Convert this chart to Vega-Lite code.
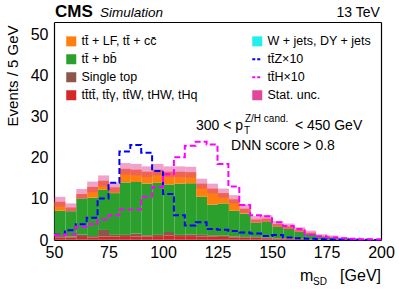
{
  "$schema": "https://vega.github.io/schema/vega-lite/v6.json",
  "width": 327,
  "height": 218,
  "autosize": "none",
  "padding": {"left": 54, "top": 22, "right": 18, "bottom": 51},
  "background": "white",
  "config": {
    "view": {"stroke": null},
    "font": "Liberation Sans",
    "axis": {"labelFont": "Liberation Sans", "labelFontSize": 16, "labelColor": "black", "domainColor": "black", "domainWidth": 1.2, "tickColor": "black", "tickWidth": 1, "tickSize": 0, "grid": false, "labelFlush": false, "labelOverlap": false, "titleFont": "Liberation Sans", "titleFontWeight": "normal", "titleColor": "black"},
    "text": {"font": "Liberation Sans", "color": "black"}
  },
  "datasets": {
    "bkg": [
      {"lo":50,"hi":55,"p":"a","v":0.05},{"lo":50,"hi":55,"p":"b","v":0.6},{"lo":50,"hi":55,"p":"c","v":0.3},{"lo":50,"hi":55,"p":"d","v":6.15},{"lo":50,"hi":55,"p":"e","v":2.2},
      {"lo":55,"hi":60,"p":"a","v":0.05},{"lo":55,"hi":60,"p":"b","v":0.6},{"lo":55,"hi":60,"p":"c","v":0.2},{"lo":55,"hi":60,"p":"d","v":6.15},{"lo":55,"hi":60,"p":"e","v":0.9},
      {"lo":60,"hi":65,"p":"a","v":0.05},{"lo":60,"hi":65,"p":"b","v":0.7},{"lo":60,"hi":65,"p":"c","v":0.6},{"lo":60,"hi":65,"p":"d","v":8.75},{"lo":60,"hi":65,"p":"e","v":1.1},
      {"lo":65,"hi":70,"p":"a","v":0.05},{"lo":65,"hi":70,"p":"b","v":0.6},{"lo":65,"hi":70,"p":"c","v":0.3},{"lo":65,"hi":70,"p":"d","v":9.35},{"lo":65,"hi":70,"p":"e","v":2.6},
      {"lo":70,"hi":75,"p":"a","v":0.05},{"lo":70,"hi":75,"p":"b","v":0.8},{"lo":70,"hi":75,"p":"c","v":1.6},{"lo":70,"hi":75,"p":"d","v":9.75},{"lo":70,"hi":75,"p":"e","v":2.2},
      {"lo":75,"hi":80,"p":"a","v":0.05},{"lo":75,"hi":80,"p":"b","v":0.8},{"lo":75,"hi":80,"p":"c","v":0.4},{"lo":75,"hi":80,"p":"d","v":10.15},{"lo":75,"hi":80,"p":"e","v":1.4},
      {"lo":80,"hi":85,"p":"a","v":0.05},{"lo":80,"hi":85,"p":"b","v":0.9},{"lo":80,"hi":85,"p":"c","v":0.3},{"lo":80,"hi":85,"p":"d","v":12.75},{"lo":80,"hi":85,"p":"e","v":3.3},
      {"lo":85,"hi":90,"p":"a","v":0.05},{"lo":85,"hi":90,"p":"b","v":0.8},{"lo":85,"hi":90,"p":"c","v":0.7},{"lo":85,"hi":90,"p":"d","v":12.55},{"lo":85,"hi":90,"p":"e","v":3.0},
      {"lo":90,"hi":95,"p":"a","v":0.05},{"lo":90,"hi":95,"p":"b","v":0.8},{"lo":90,"hi":95,"p":"c","v":0.3},{"lo":90,"hi":95,"p":"d","v":12.55},{"lo":90,"hi":95,"p":"e","v":2.9},
      {"lo":95,"hi":100,"p":"a","v":0.05},{"lo":95,"hi":100,"p":"b","v":0.9},{"lo":95,"hi":100,"p":"c","v":0.3},{"lo":95,"hi":100,"p":"d","v":12.65},{"lo":95,"hi":100,"p":"e","v":3.2},
      {"lo":100,"hi":105,"p":"a","v":0.05},{"lo":100,"hi":105,"p":"b","v":1.0},{"lo":100,"hi":105,"p":"c","v":0.9},{"lo":100,"hi":105,"p":"d","v":11.55},{"lo":100,"hi":105,"p":"e","v":3.1},
      {"lo":105,"hi":110,"p":"a","v":0.05},{"lo":105,"hi":110,"p":"b","v":0.9},{"lo":105,"hi":110,"p":"c","v":0.3},{"lo":105,"hi":110,"p":"d","v":12.45},{"lo":105,"hi":110,"p":"e","v":2.9},
      {"lo":110,"hi":115,"p":"a","v":0.05},{"lo":110,"hi":115,"p":"b","v":0.9},{"lo":110,"hi":115,"p":"c","v":0.4},{"lo":110,"hi":115,"p":"d","v":12.45},{"lo":110,"hi":115,"p":"e","v":2.7},
      {"lo":115,"hi":120,"p":"a","v":0.05},{"lo":115,"hi":120,"p":"b","v":0.8},{"lo":115,"hi":120,"p":"c","v":0.4},{"lo":115,"hi":120,"p":"d","v":9.25},{"lo":115,"hi":120,"p":"e","v":3.2},
      {"lo":120,"hi":125,"p":"a","v":0.05},{"lo":120,"hi":125,"p":"b","v":0.8},{"lo":120,"hi":125,"p":"c","v":0.3},{"lo":120,"hi":125,"p":"d","v":7.45},{"lo":120,"hi":125,"p":"e","v":3.9},
      {"lo":125,"hi":130,"p":"a","v":0.05},{"lo":125,"hi":130,"p":"b","v":0.7},{"lo":125,"hi":130,"p":"c","v":0.3},{"lo":125,"hi":130,"p":"d","v":7.85},{"lo":125,"hi":130,"p":"e","v":2.5},
      {"lo":130,"hi":135,"p":"a","v":0.05},{"lo":130,"hi":135,"p":"b","v":0.6},{"lo":130,"hi":135,"p":"c","v":0.2},{"lo":130,"hi":135,"p":"d","v":6.25},{"lo":130,"hi":135,"p":"e","v":2.8},
      {"lo":135,"hi":140,"p":"a","v":0.05},{"lo":135,"hi":140,"p":"b","v":0.5},{"lo":135,"hi":140,"p":"c","v":0.2},{"lo":135,"hi":140,"p":"d","v":5.65},{"lo":135,"hi":140,"p":"e","v":1.2},
      {"lo":140,"hi":145,"p":"a","v":0.05},{"lo":140,"hi":145,"p":"b","v":0.5},{"lo":140,"hi":145,"p":"c","v":0.2},{"lo":140,"hi":145,"p":"d","v":3.45},{"lo":140,"hi":145,"p":"e","v":0.8},
      {"lo":145,"hi":150,"p":"a","v":0.05},{"lo":145,"hi":150,"p":"b","v":0.4},{"lo":145,"hi":150,"p":"c","v":0.1},{"lo":145,"hi":150,"p":"d","v":3.85},{"lo":145,"hi":150,"p":"e","v":0.8},
      {"lo":150,"hi":155,"p":"a","v":0.05},{"lo":150,"hi":155,"p":"b","v":0.3},{"lo":150,"hi":155,"p":"c","v":0.1},{"lo":150,"hi":155,"p":"d","v":2.75},{"lo":150,"hi":155,"p":"e","v":0.7},
      {"lo":155,"hi":160,"p":"a","v":0.05},{"lo":155,"hi":160,"p":"b","v":0.3},{"lo":155,"hi":160,"p":"c","v":0.1},{"lo":155,"hi":160,"p":"d","v":2.25},{"lo":155,"hi":160,"p":"e","v":0.6},
      {"lo":160,"hi":165,"p":"a","v":0.05},{"lo":160,"hi":165,"p":"b","v":0.2},{"lo":160,"hi":165,"p":"c","v":0.05},{"lo":160,"hi":165,"p":"d","v":1.7},{"lo":160,"hi":165,"p":"e","v":0.5},
      {"lo":165,"hi":170,"p":"a","v":0.05},{"lo":165,"hi":170,"p":"b","v":0.15},{"lo":165,"hi":170,"p":"c","v":0.05},{"lo":165,"hi":170,"p":"d","v":1.25},{"lo":165,"hi":170,"p":"e","v":0.3},
      {"lo":170,"hi":175,"p":"a","v":0.05},{"lo":170,"hi":175,"p":"b","v":0.1},{"lo":170,"hi":175,"p":"d","v":0.65},{"lo":170,"hi":175,"p":"e","v":0.2},
      {"lo":175,"hi":180,"p":"b","v":0.05},{"lo":175,"hi":180,"p":"d","v":0.55},{"lo":175,"hi":180,"p":"e","v":0.2},
      {"lo":180,"hi":185,"p":"b","v":0.03},{"lo":180,"hi":185,"p":"d","v":0.27},{"lo":180,"hi":185,"p":"e","v":0.1},
      {"lo":185,"hi":190,"p":"b","v":0.02},{"lo":185,"hi":190,"p":"d","v":0.18},{"lo":185,"hi":190,"p":"e","v":0.05},
      {"lo":190,"hi":195,"p":"b","v":0.02},{"lo":190,"hi":195,"p":"d","v":0.13},{"lo":190,"hi":195,"p":"e","v":0.05},
      {"lo":195,"hi":200,"p":"b","v":0.01},{"lo":195,"hi":200,"p":"d","v":0.09},{"lo":195,"hi":200,"p":"e","v":0.05}
    ],
    "unc": [
      {"lo":50,"hi":55,"ulo":8.1,"uhi":10.5},{"lo":55,"hi":60,"ulo":6.9,"uhi":8.9},{"lo":60,"hi":65,"ulo":10.0,"uhi":12.4},
      {"lo":65,"hi":70,"ulo":11.6,"uhi":14.2},{"lo":70,"hi":75,"ulo":13.1,"uhi":15.7},{"lo":75,"hi":80,"ulo":11.6,"uhi":14.0},
      {"lo":80,"hi":85,"ulo":15.9,"uhi":18.7},{"lo":85,"hi":90,"ulo":15.7,"uhi":18.5},{"lo":90,"hi":95,"ulo":15.3,"uhi":17.9},
      {"lo":95,"hi":100,"ulo":15.7,"uhi":18.5},{"lo":100,"hi":105,"ulo":15.3,"uhi":17.9},{"lo":105,"hi":110,"ulo":15.3,"uhi":17.9},
      {"lo":110,"hi":115,"ulo":15.2,"uhi":17.8},{"lo":115,"hi":120,"ulo":12.5,"uhi":14.9},{"lo":120,"hi":125,"ulo":11.3,"uhi":13.7},
      {"lo":125,"hi":130,"ulo":10.3,"uhi":12.5},{"lo":130,"hi":135,"ulo":8.9,"uhi":10.9},{"lo":135,"hi":140,"ulo":6.6,"uhi":8.6},
      {"lo":140,"hi":145,"ulo":4.2,"uhi":5.8},{"lo":145,"hi":150,"ulo":4.4,"uhi":6.0},{"lo":150,"hi":155,"ulo":3.2,"uhi":4.6},
      {"lo":155,"hi":160,"ulo":2.6,"uhi":4.0},{"lo":160,"hi":165,"ulo":1.9,"uhi":3.1},{"lo":165,"hi":170,"ulo":1.3,"uhi":2.3},
      {"lo":170,"hi":175,"ulo":0.6,"uhi":1.4},{"lo":175,"hi":180,"ulo":0.5,"uhi":1.1},{"lo":180,"hi":185,"ulo":0.15,"uhi":0.65},
      {"lo":185,"hi":190,"ulo":0.05,"uhi":0.45},{"lo":190,"hi":195,"ulo":0.05,"uhi":0.35},{"lo":195,"hi":200,"ulo":0.05,"uhi":0.25}
    ],
    "sig": [
      {"x":50,"p":"z","v":1.3},{"x":55,"p":"z","v":2.4},{"x":60,"p":"z","v":3.8},{"x":65,"p":"z","v":5.4},{"x":70,"p":"z","v":10.1},
      {"x":75,"p":"z","v":13.9},{"x":80,"p":"z","v":21.5},{"x":85,"p":"z","v":23.1},{"x":90,"p":"z","v":21.2},{"x":95,"p":"z","v":16.8},
      {"x":100,"p":"z","v":11.2},{"x":105,"p":"z","v":6.0},{"x":110,"p":"z","v":3.5},{"x":115,"p":"z","v":4.3},{"x":120,"p":"z","v":2.7},
      {"x":125,"p":"z","v":2.5},{"x":130,"p":"z","v":2.2},{"x":135,"p":"z","v":1.8},{"x":140,"p":"z","v":1.6},{"x":145,"p":"z","v":1.0},
      {"x":150,"p":"z","v":1.2},{"x":155,"p":"z","v":0.6},{"x":160,"p":"z","v":0.4},{"x":165,"p":"z","v":0.3},{"x":170,"p":"z","v":0.2},
      {"x":175,"p":"z","v":0.15},{"x":180,"p":"z","v":0.1},{"x":185,"p":"z","v":0.05},{"x":190,"p":"z","v":0.05},{"x":195,"p":"z","v":0.03},{"x":200,"p":"z","v":0.03},
      {"x":50,"p":"h","v":1.2},{"x":55,"p":"h","v":1.4},{"x":60,"p":"h","v":3.2},{"x":65,"p":"h","v":3.8},{"x":70,"p":"h","v":5.0},
      {"x":75,"p":"h","v":6.0},{"x":80,"p":"h","v":7.4},{"x":85,"p":"h","v":7.4},{"x":90,"p":"h","v":10.5},{"x":95,"p":"h","v":12.9},
      {"x":100,"p":"h","v":16.0},{"x":105,"p":"h","v":20.1},{"x":110,"p":"h","v":22.9},{"x":115,"p":"h","v":23.9},{"x":120,"p":"h","v":23.2},
      {"x":125,"p":"h","v":18.5},{"x":130,"p":"h","v":13.0},{"x":135,"p":"h","v":8.5},{"x":140,"p":"h","v":6.0},{"x":145,"p":"h","v":5.8},
      {"x":150,"p":"h","v":4.3},{"x":155,"p":"h","v":3.4},{"x":160,"p":"h","v":2.7},{"x":165,"p":"h","v":1.3},{"x":170,"p":"h","v":0.9},
      {"x":175,"p":"h","v":0.6},{"x":180,"p":"h","v":0.4},{"x":185,"p":"h","v":0.3},{"x":190,"p":"h","v":0.2},{"x":195,"p":"h","v":0.2},{"x":200,"p":"h","v":0.2}
    ]
  },
  "resolve": {"axis": {"x": "independent", "y": "independent"}},
  "layer": [
    {
      "data": {"name": "bkg"},
      "mark": {"type": "bar", "binSpacing": 0, "strokeWidth": 0},
      "encoding": {
        "x": {"field": "lo", "type": "quantitative", "bin": "binned", "scale": {"domain": [50, 200], "nice": false, "zero": false},
          "axis": {"orient": "bottom", "title": null, "values": [50,55,60,65,70,75,80,85,90,95,100,105,110,115,120,125,130,135,140,145,150,155,160,165,170,175,180,185,190,195,200],
            "labelExpr": "datum.value % 25 === 0 ? datum.label : ''", "labelPadding": 4,
            "encode": {"ticks": {"update": {"y2": {"signal": "datum.value % 25 === 0 ? -8 : -4"}}}}}},
        "x2": {"field": "hi"},
        "y": {"field": "v", "type": "quantitative", "stack": "zero", "scale": {"domain": [0, 53], "nice": false},
          "axis": {"orient": "left", "values": [0,2,4,6,8,10,12,14,16,18,20,22,24,26,28,30,32,34,36,38,40,42,44,46,48,50,52],
            "labelExpr": "datum.value % 10 === 0 ? datum.label : ''", "labelPadding": 6,
            "title": "Events / 5 GeV", "titleFontSize": 15, "titleAngle": 270, "titleAlign": "right", "titleBaseline": "middle", "titleX": -42, "titleY": 3,
            "encode": {"ticks": {"update": {"x2": {"signal": "datum.value % 10 === 0 ? 8 : 4"}}}}}},
        "color": {"field": "p", "type": "nominal",
          "scale": {"domain": ["e", "d", "c", "b", "a", "z", "h", "u"], "range": ["#ff7f0e", "#2ca02c", "#8c564b", "#d62728", "#22eeee", "#0000ff", "#ff00ff", "#e0479a"]},
          "legend": {"orient": "none", "legendX": 11, "legendY": 13, "columns": 2, "columnPadding": 50, "rowPadding": 5, "padding": 0, "title": null,
            "labelFont": "Liberation Sans", "labelFontSize": 12.5, "labelColor": "black", "labelOffset": 4, "symbolSize": 100, "labelLimit": 300,
            "labelExpr": "{'e': 'tt\u0304 + LF, tt\u0304 + cc\u0304', 'a': 'W + jets, DY + jets', 'd': 'tt\u0304 + bb\u0304', 'z': 'tt\u0304Z\u00d710', 'c': 'Single top', 'h': 'tt\u0304H\u00d710', 'b': 'tt\u0304tt\u0304, tt\u0304\u03b3, tt\u0304W, tHW, tHq', 'u': 'Stat. unc.'}[datum.label]",
            "encode": {"symbols": {"update": {
              "shape": {"signal": "datum.value === 'z' || datum.value === 'h' ? 'stroke' : 'square'"},
              "fill": {"signal": "datum.value === 'z' || datum.value === 'h' ? 'transparent' : scale('color', datum.value)"},
              "stroke": {"signal": "datum.value === 'z' || datum.value === 'h' ? scale('color', datum.value) : 'transparent'"},
              "strokeWidth": {"signal": "datum.value === 'z' || datum.value === 'h' ? 2 : 0"},
              "strokeDash": {"signal": "datum.value === 'z' || datum.value === 'h' ? [3, 2] : [1, 0]"},
              "opacity": {"value": 1},
              "fillOpacity": {"value": 1}
            }}}}},
        "order": {"field": "p", "sort": "ascending"}
      }
    },
    {
      "data": {"name": "unc"},
      "mark": {"type": "bar", "binSpacing": 0, "fillOpacity": 0.5, "strokeWidth": 0},
      "encoding": {
        "x": {"field": "lo", "type": "quantitative", "bin": "binned", "axis": null},
        "x2": {"field": "hi"},
        "y": {"field": "ulo", "type": "quantitative", "axis": null},
        "y2": {"field": "uhi"},
        "color": {"datum": "u", "type": "nominal"}
      }
    },
    {
      "data": {"name": "sig"},
      "mark": {"type": "line", "interpolate": "step-after", "strokeWidth": 2, "strokeDash": [6, 3]},
      "encoding": {
        "x": {"field": "x", "type": "quantitative",
          "axis": {"orient": "top", "title": null, "labels": false, "values": [50,55,60,65,70,75,80,85,90,95,100,105,110,115,120,125,130,135,140,145,150,155,160,165,170,175,180,185,190,195,200],
            "encode": {"ticks": {"update": {"y2": {"signal": "datum.value % 25 === 0 ? 8 : 4"}}}}}},
        "y": {"field": "v", "type": "quantitative",
          "axis": {"orient": "right", "title": null, "labels": false, "values": [0,2,4,6,8,10,12,14,16,18,20,22,24,26,28,30,32,34,36,38,40,42,44,46,48,50,52],
            "encode": {"ticks": {"update": {"x2": {"signal": "datum.value % 10 === 0 ? -8 : -4"}}}}}},
        "color": {"field": "p", "type": "nominal"}
      }
    },
    {"data": {"values": [{}]}, "mark": {"type": "text", "text": "CMS", "fontSize": 17, "fontWeight": "bold", "align": "left", "baseline": "alphabetic"},
      "encoding": {"x": {"datum": 50.5, "type": "quantitative", "axis": null}, "y": {"datum": 54.2, "type": "quantitative", "axis": null}}},
    {"data": {"values": [{}]}, "mark": {"type": "text", "text": "Simulation", "fontSize": 13.5, "fontStyle": "italic", "align": "left", "baseline": "alphabetic"},
      "encoding": {"x": {"datum": 71.1, "type": "quantitative", "axis": null}, "y": {"datum": 54.2, "type": "quantitative", "axis": null}}},
    {"data": {"values": [{}]}, "mark": {"type": "text", "text": "13 TeV", "fontSize": 14, "align": "right", "baseline": "alphabetic"},
      "encoding": {"x": {"datum": 199.5, "type": "quantitative", "axis": null}, "y": {"datum": 54.2, "type": "quantitative", "axis": null}}},
    {"data": {"values": [{}]}, "mark": {"type": "text", "text": "300 < p", "fontSize": 14, "align": "right", "baseline": "alphabetic"},
      "encoding": {"x": {"datum": 136.7, "type": "quantitative", "axis": null}, "y": {"datum": 26.7, "type": "quantitative", "axis": null}}},
    {"data": {"values": [{}]}, "mark": {"type": "text", "text": "T", "fontSize": 10, "align": "left", "baseline": "alphabetic"},
      "encoding": {"x": {"datum": 137.2, "type": "quantitative", "axis": null}, "y": {"datum": 25.8, "type": "quantitative", "axis": null}}},
    {"data": {"values": [{}]}, "mark": {"type": "text", "text": "Z/H cand.", "fontSize": 10, "align": "left", "baseline": "alphabetic"},
      "encoding": {"x": {"datum": 137.6, "type": "quantitative", "axis": null}, "y": {"datum": 28.7, "type": "quantitative", "axis": null}}},
    {"data": {"values": [{}]}, "mark": {"type": "text", "text": "< 450 GeV", "fontSize": 14, "align": "left", "baseline": "alphabetic"},
      "encoding": {"x": {"datum": 160.5, "type": "quantitative", "axis": null}, "y": {"datum": 26.7, "type": "quantitative", "axis": null}}},
    {"data": {"values": [{}]}, "mark": {"type": "text", "text": "DNN score > 0.8", "fontSize": 14, "align": "left", "baseline": "alphabetic"},
      "encoding": {"x": {"datum": 131.2, "type": "quantitative", "axis": null}, "y": {"datum": 21.9, "type": "quantitative", "axis": null}}},
    {"data": {"values": [{}]}, "mark": {"type": "text", "text": "m", "fontSize": 16, "align": "left", "baseline": "alphabetic"},
      "encoding": {"x": {"datum": 162.8, "type": "quantitative", "axis": null}, "y": {"datum": -10.0, "type": "quantitative", "axis": null}}},
    {"data": {"values": [{}]}, "mark": {"type": "text", "text": "SD", "fontSize": 10, "align": "left", "baseline": "alphabetic"},
      "encoding": {"x": {"datum": 168.8, "type": "quantitative", "axis": null}, "y": {"datum": -10.9, "type": "quantitative", "axis": null}}},
    {"data": {"values": [{}]}, "mark": {"type": "text", "text": "[GeV]", "fontSize": 16, "align": "right", "baseline": "alphabetic"},
      "encoding": {"x": {"datum": 200, "type": "quantitative", "axis": null}, "y": {"datum": -10.0, "type": "quantitative", "axis": null}}}
  ]
}
